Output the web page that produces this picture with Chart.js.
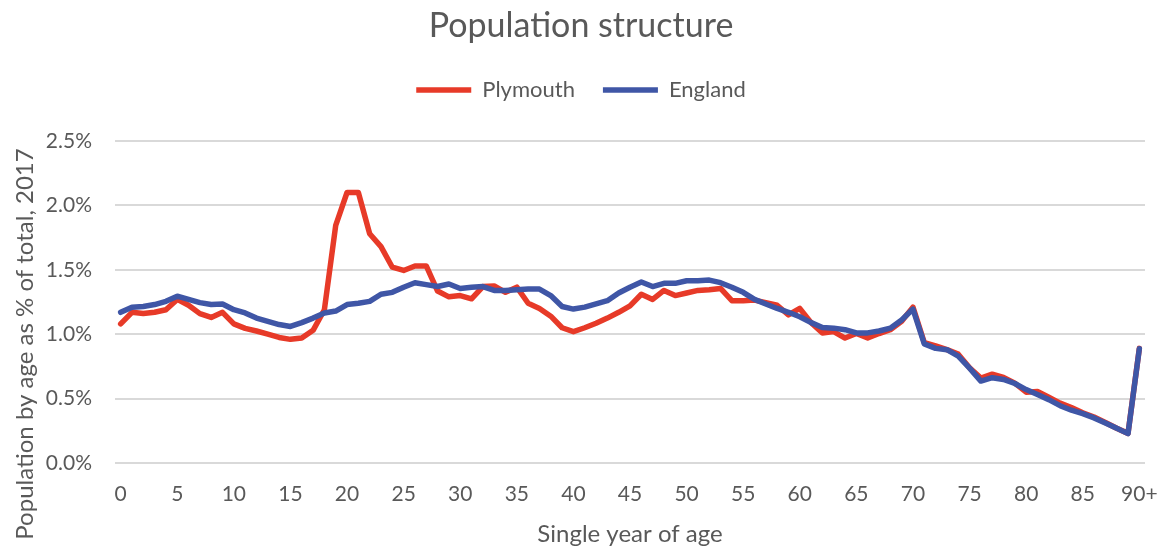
<!DOCTYPE html>
<html>
<head>
<meta charset="utf-8">
<title>Population structure</title>
<script src="https://cdn.jsdelivr.net/npm/chart.js@4.4.1/dist/chart.umd.min.js"></script>
<style>
  html, body { margin: 0; padding: 0; background: #fff; }
</style>
</head>
<body>
<canvas id="popChart" width="1162" height="552"></canvas>
<script>
// Single year of age, 0..89 and a final 90+ bucket
const ageLabels = Array.from({ length: 90 }, (_, i) => String(i)).concat(['90+']);

// Share of total population at each age, 2017 (%)
const plymouth = [
  1.08, 1.17, 1.16, 1.17, 1.19, 1.27, 1.225, 1.16, 1.13, 1.17,
  1.08, 1.045, 1.025, 1.00, 0.975, 0.96, 0.97, 1.03, 1.19, 1.845,
  2.10, 2.10, 1.78, 1.68, 1.52, 1.495, 1.53, 1.53, 1.335, 1.29,
  1.30, 1.275, 1.37, 1.375, 1.325, 1.365, 1.24, 1.20, 1.14, 1.05,
  1.02, 1.05, 1.085, 1.125, 1.17, 1.22, 1.31, 1.27, 1.34, 1.30,
  1.32, 1.34, 1.345, 1.355, 1.26, 1.26, 1.265, 1.245, 1.225, 1.15,
  1.20, 1.09, 1.01, 1.02, 0.97, 1.005, 0.97, 1.005, 1.035, 1.10,
  1.21, 0.935, 0.91, 0.88, 0.845, 0.74, 0.66, 0.69, 0.665, 0.62,
  0.55, 0.555, 0.51, 0.465, 0.43, 0.39, 0.357, 0.315, 0.27, 0.23,
  0.89
];

const england = [
  1.17, 1.21, 1.215, 1.23, 1.255, 1.295, 1.27, 1.245, 1.23, 1.235,
  1.19, 1.165, 1.125, 1.10, 1.075, 1.06, 1.09, 1.125, 1.165, 1.18,
  1.23, 1.24, 1.255, 1.31, 1.325, 1.365, 1.40, 1.385, 1.37, 1.39,
  1.355, 1.365, 1.37, 1.34, 1.34, 1.345, 1.35, 1.35, 1.30, 1.215,
  1.195, 1.21, 1.235, 1.26, 1.32, 1.365, 1.405, 1.37, 1.395, 1.395,
  1.415, 1.415, 1.42, 1.40, 1.365, 1.325, 1.27, 1.235, 1.20, 1.17,
  1.135, 1.09, 1.052, 1.047, 1.035, 1.01, 1.01, 1.025, 1.047, 1.11,
  1.195, 0.925, 0.89, 0.88, 0.83, 0.737, 0.636, 0.662, 0.649, 0.617,
  0.57, 0.531, 0.492, 0.445, 0.41, 0.383, 0.35, 0.31, 0.27, 0.228,
  0.887
];

const yTicks = [0, 0.5, 1.0, 1.5, 2.0, 2.5];

const RED = '#E73A28';
const BLUE = '#3F56A6';
const TEXT = '#595959';
const GRID = '#D9D9D9';

Chart.defaults.font.family = 'Lato, "Open Sans", sans-serif';
Chart.defaults.color = TEXT;

// empty band between the legend row and the top of the plot
const legendGap = {
  id: 'legendGap',
  start(chart) {
    Chart.layouts.addBox(chart, {
      position: 'top',
      weight: 500,
      fullSize: true,
      options: {},
      isHorizontal: () => true,
      update(maxWidth) {
        this.width = maxWidth;
        this.height = 30;
      },
      draw() {}
    });
  }
};

// rotated y-axis caption, sits a little below the plot centre
const yCaption = {
  id: 'yCaption',
  afterDraw(chart) {
    const ctx = chart.ctx;
    ctx.save();
    ctx.translate(25, 344);
    ctx.rotate(-Math.PI / 2);
    ctx.font = '24px Lato, "Open Sans", sans-serif';
    ctx.fillStyle = TEXT;
    ctx.textAlign = 'center';
    ctx.textBaseline = 'middle';
    ctx.fillText('Population by age as % of total, 2017', 0, 0);
    ctx.restore();
  }
};

const lineStyle = (color) => ({
  borderColor: color,
  backgroundColor: color,
  pointBorderColor: color,
  pointBackgroundColor: color,
  pointBorderWidth: 5.5,
  borderWidth: 5.5,
  pointRadius: 0,
  pointHoverRadius: 0,
  tension: 0,
  fill: false,
  borderJoinStyle: 'round',
  borderCapStyle: 'round'
});

new Chart(document.getElementById('popChart'), {
  type: 'line',
  data: {
    labels: ageLabels,
    datasets: [
      { label: 'Plymouth', data: plymouth, order: 1, ...lineStyle(RED) },
      { label: 'England', data: england, order: 0, ...lineStyle(BLUE) }
    ]
  },
  options: {
    responsive: false,
    animation: false,
    events: [],
    layout: { padding: 0 },
    plugins: {
      title: {
        display: true,
        text: 'Population structure',
        color: TEXT,
        font: { size: 34, weight: 'normal' },
        padding: { top: 5.6, bottom: 4.6 }
      },
      legend: {
        labels: {
          usePointStyle: true,
          pointStyle: 'line',
          pointStyleWidth: 55,
          boxWidth: 55,
          padding: 28,
          color: TEXT,
          font: { size: 22 },
          sort: (a, b) => a.datasetIndex - b.datasetIndex
        }
      },
      tooltip: { enabled: false }
    },
    scales: {
      x: {
        offset: true,
        grid: { display: false, drawTicks: false },
        border: { display: false },
        ticks: {
          autoSkip: false,
          maxRotation: 0,
          minRotation: 0,
          padding: 19,
          color: TEXT,
          font: { size: 21 },
          callback: (v, i) => (i % 5 === 0 ? ageLabels[i] : null)
        },
        title: {
          display: true,
          text: 'Single year of age',
          color: TEXT,
          font: { size: 24 },
          padding: { top: 0, bottom: 3 }
        },
        afterFit: (s) => {
          s.height = 89;
          s.paddingLeft = 0;
          s.paddingRight = 17;
        }
      },
      y: {
        min: yTicks[0],
        max: yTicks[yTicks.length - 1],
        afterBuildTicks: (s) => { s.ticks = yTicks.map((v) => ({ value: v })); },
        ticks: {
          padding: 23,
          color: TEXT,
          font: { size: 21 },
          callback: (v) => v.toFixed(1) + '%'
        },
        grid: { color: GRID, lineWidth: 2, drawTicks: false },
        border: { display: false },
        afterFit: (s) => { s.width = 115; }
      }
    }
  },
  plugins: [legendGap, yCaption]
});
</script>
</body>
</html>
